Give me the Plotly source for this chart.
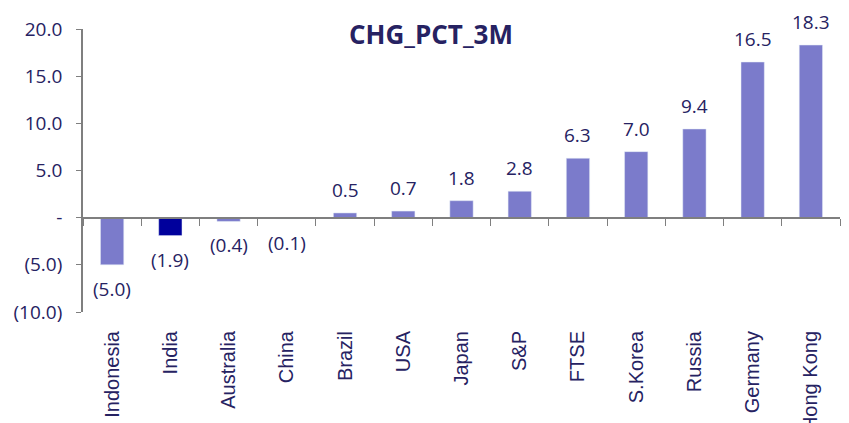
import plotly.graph_objects as go

countries = ["Indonesia", "India", "Australia", "China", "Brazil", "USA", "Japan",
             "S&P", "FTSE", "S.Korea", "Russia", "Germany", "Hong Kong"]
values = [-5.0, -1.9, -0.4, -0.1, 0.5, 0.7, 1.8, 2.8, 6.3, 7.0, 9.4, 16.5, 18.3]
highlight = "India"
y_tickvals = [-10, -5, 0, 5, 10, 15, 20]
y_ticktext = ["(10.0)", "(5.0)", "-", "5.0", "10.0", "15.0", "20.0"]

BAR = "#7b7bcb"
HL = "#00009c"
TXT = "#262262"
AX = "#7f7f7f"
NUMFONT = "Open Sans, Lato, sans-serif"
PAD = "\u00a0\u00a0"

def fmt(v):
    return f"({abs(v):.1f})" if v < 0 else f"{v:.1f}"

colors = [HL if c == highlight else BAR for c in countries]

fig = go.Figure()
fig.add_trace(go.Bar(x=countries, y=values, marker=dict(color=colors, line=dict(width=0)),
                     width=0.4, hoverinfo="x+y"))
# transparent copy on the zero-line axis so it gets its categories
fig.add_trace(go.Bar(x=countries, y=values, xaxis="x2", yaxis="y",
                     marker=dict(color="rgba(0,0,0,0)"),
                     width=0.4, hoverinfo="skip", showlegend=False))

for c, v in zip(countries, values):
    fig.add_annotation(x=c, y=v, text=fmt(v), showarrow=False,
                       yshift=23 if v >= 0 else -24, yanchor="middle",
                       font=dict(family=NUMFONT, size=19, color=TXT))

W, H = 841, 415
fig.update_layout(
    width=W, height=H,
    margin=dict(l=75, r=9, t=21, b=111, autoexpand=False),
    paper_bgcolor="white", plot_bgcolor="white",
    showlegend=False, bargap=0.6,
    title=dict(text="<b>CHG_PCT_3M</b>", x=(431 - 8) / W, xref="container", xanchor="center",
               y=1 - 27 / H, yref="container", yanchor="middle",
               font=dict(family=NUMFONT, size=26, color=TXT)),
    xaxis=dict(categoryorder="array", categoryarray=countries,
               showline=False, ticks="outside", ticklen=10, tickcolor="rgba(0,0,0,0)",
               showgrid=False, zeroline=False, tickangle=-90,
               tickfont=dict(family="Liberation Sans, Arial, sans-serif", size=20, color=TXT)),
    xaxis2=dict(overlaying="x", anchor="free", position=1 / 3,
                categoryorder="array", categoryarray=countries,
                showline=True, linecolor=AX, linewidth=2,
                ticks="outside", ticklen=7, tickcolor=AX,
                tickson="boundaries", showticklabels=False),
    yaxis=dict(range=[-10, 20], tickvals=y_tickvals, ticktext=[t + PAD for t in y_ticktext],
               showline=True, linecolor=AX, linewidth=2,
               ticks="outside", ticklen=5, tickcolor=AX,
               tickfont=dict(family=NUMFONT, size=19, color=TXT)),
)

fig.write_html("out.html")
